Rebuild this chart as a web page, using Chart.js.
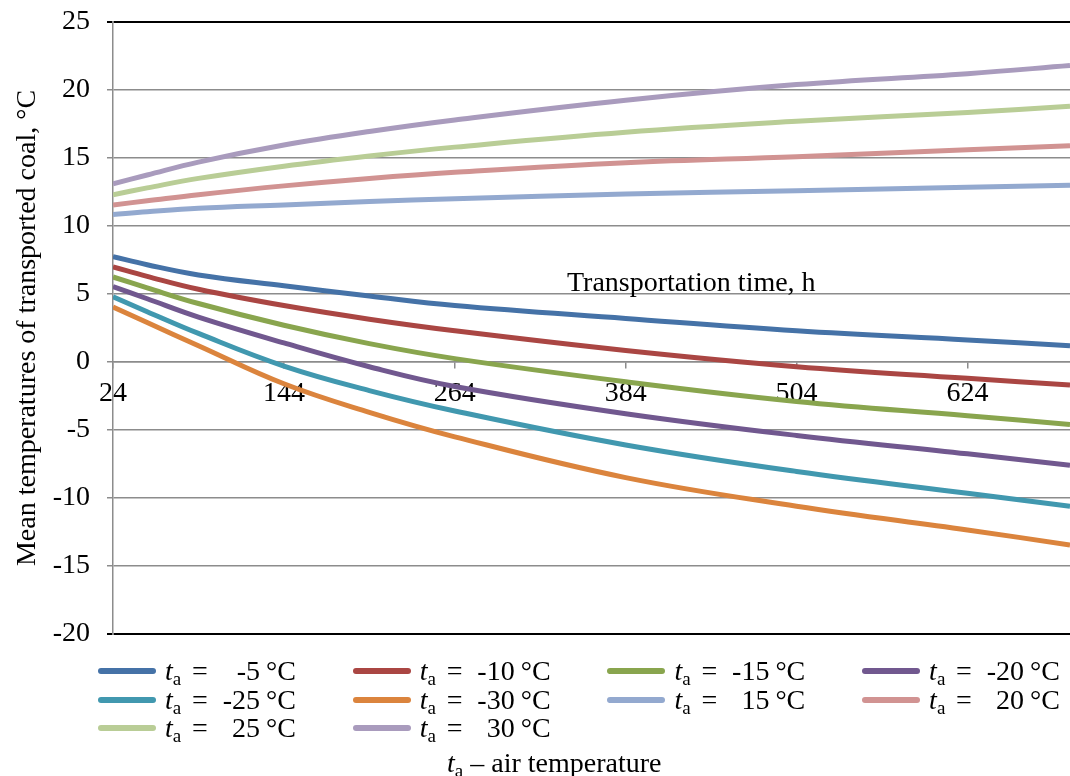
<!DOCTYPE html>
<html>
<head>
<meta charset="utf-8">
<script src="https://cdn.jsdelivr.net/npm/chart.js@4.4.1/dist/chart.umd.min.js"></script>
<style>
  body { margin: 0; background: #fff; }
  #wrap { position: relative; width: 1070px; height: 776px; font-family: 'Liberation Serif', 'Times New Roman', serif; color: #000; }
  #grafico { position: absolute; left: 0; top: 0; }
  .item { position: absolute; height: 30px; width: 250px; font-size: 28px; line-height: 30px; white-space: nowrap; }
  .item > span { position: absolute; top: 0; }
  .sw { left: 0; top: 12px !important; width: 58px; height: 6px; border-radius: 3px; }
  .ta { left: 67px; }
  .eq { left: 94px; }
  .val { left: 108px; width: 54px; text-align: right; }
  .un { left: 168px; }
  sub { font-size: 19px; vertical-align: -5px; line-height: 0; }
  #xtitulo { position: absolute; left: 567px; top: 268px; font-size: 28px; line-height: 28px; white-space: nowrap; }
  #nota { position: absolute; left: 447px; top: 748px; font-size: 28px; line-height: 30px; white-space: nowrap; }
</style>
</head>
<body>
<div id="wrap">
  <canvas id="grafico" width="1070" height="776"></canvas>
  <div id="xtitulo">Transportation time, h</div>
  <div id="legenda"></div>
  <div id="nota"><i>t</i><sub>a</sub> – air temperature</div>
</div>
<script>
// transportation time, h
const horas = [24, 48, 84, 144, 204, 264, 384, 504, 624, 696];
const xTicks = [24, 144, 264, 384, 504, 624];

// air temperatures of each curve, °C
const tempAr = [-5, -10, -15, -20, -25, -30, 15, 20, 25, 30];

// mean coal temperature, °C
const ta_m5  = [7.75, 7.15, 6.4, 5.6, 4.85, 4.15, 3.2, 2.3, 1.62, 1.2];
const ta_m10 = [7.0, 6.3, 5.35, 4.15, 3.15, 2.3, 0.85, -0.35, -1.2, -1.7];
const ta_m15 = [6.25, 5.45, 4.3, 2.7, 1.35, 0.25, -1.45, -2.9, -3.95, -4.6];
const ta_m20 = [5.55, 4.65, 3.3, 1.4, -0.35, -1.8, -3.8, -5.4, -6.75, -7.6];
const ta_m25 = [4.8, 3.7, 2.1, -0.3, -2.1, -3.6, -6.1, -8.05, -9.65, -10.6];
const ta_m30 = [4.05, 2.9, 1.2, -1.6, -3.7, -5.5, -8.5, -10.6, -12.35, -13.45];
const ta_15  = [10.85, 11.05, 11.3, 11.55, 11.8, 12.0, 12.35, 12.6, 12.85, 13.0];
const ta_20  = [11.55, 11.85, 12.3, 12.95, 13.5, 13.95, 14.65, 15.1, 15.6, 15.9];
const ta_25  = [12.3, 12.8, 13.5, 14.4, 15.15, 15.8, 16.9, 17.7, 18.35, 18.8];
const ta_30  = [13.1, 13.75, 14.7, 15.95, 16.95, 17.8, 19.25, 20.4, 21.2, 21.8];

const series = [ta_m5, ta_m10, ta_m15, ta_m20, ta_m25, ta_m30, ta_15, ta_20, ta_25, ta_30];
const cores = ['#4572A7', '#AA4643', '#89A54E', '#71588F', '#4198AF', '#DB843D', '#93A9CF', '#D19392', '#B9CD96', '#A99BBD'];

const fonte = { family: "'Liberation Serif', 'Times New Roman', serif", size: 28 };

const datasets = series.map((vals, i) => ({
    label: 'ta = ' + tempAr[i] + ' °C',
    data: horas.map((h, j) => ({ x: h, y: vals[j] })),
    borderColor: cores[i],
    backgroundColor: cores[i],
    borderWidth: 5,
    pointRadius: 0,
    fill: false,
    tension: 0.4
}));

new Chart(document.getElementById('grafico'), {
    type: 'line',
    data: { datasets },
    options: {
        responsive: false,
        animation: false,
        layout: { padding: { top: 22, bottom: 142, right: 0, left: 0 } },
        plugins: { legend: { display: false }, tooltip: { enabled: false } },
        scales: {
            x: {
                type: 'linear', min: 24, max: 696,
                position: { y: 0 },
                afterBuildTicks: s => { s.ticks = xTicks.map(v => ({ value: v })); },
                afterFit: s => { s.paddingTop = 0; s.paddingBottom = 0; s.paddingLeft = 0; s.paddingRight = 0; },
                grid: { drawOnChartArea: false, drawTicks: true, tickLength: 6, color: '#8c8c8c', lineWidth: 1.5 },
                border: { color: '#8c8c8c', width: 1.5 },
                ticks: { font: fonte, color: '#000', padding: 9, maxRotation: 0, autoSkip: false }
            },
            y: {
                min: -20, max: 25,
                afterFit: s => { s.width = 113; s.paddingTop = 0; s.paddingBottom = 0; },
                grid: {
                    color: c => (c.tick && (c.tick.value === 25 || c.tick.value === -20)) ? '#000' : '#8c8c8c',
                    lineWidth: c => (c.tick && (c.tick.value === 25 || c.tick.value === -20)) ? 2 : 1.5,
                    tickLength: 6
                },
                border: { color: '#8c8c8c', width: 1.5 },
                ticks: { stepSize: 5, font: fonte, color: '#000', padding: 17 },
                title: { display: true, text: 'Mean temperatures of transported coal, °C', font: fonte, color: '#000', padding: { top: 11, bottom: 0 } }
            }
        }
    }
});

// legend
const legenda = document.getElementById('legenda');
tempAr.forEach((t, i) => {
    const col = i % 4, lin = Math.floor(i / 4);
    const d = document.createElement('div');
    d.className = 'item';
    d.style.left = (98 + col * 254.7) + 'px';
    d.style.top = (656 + lin * 28.7) + 'px';
    d.innerHTML = '<span class="sw" style="background:' + cores[i] + '"></span>' +
        '<span class="ta"><i>t</i><sub>a</sub></span><span class="eq">=</span>' +
        '<span class="val">' + t + '</span><span class="un">°C</span>';
    legenda.appendChild(d);
});
</script>
</body>
</html>
